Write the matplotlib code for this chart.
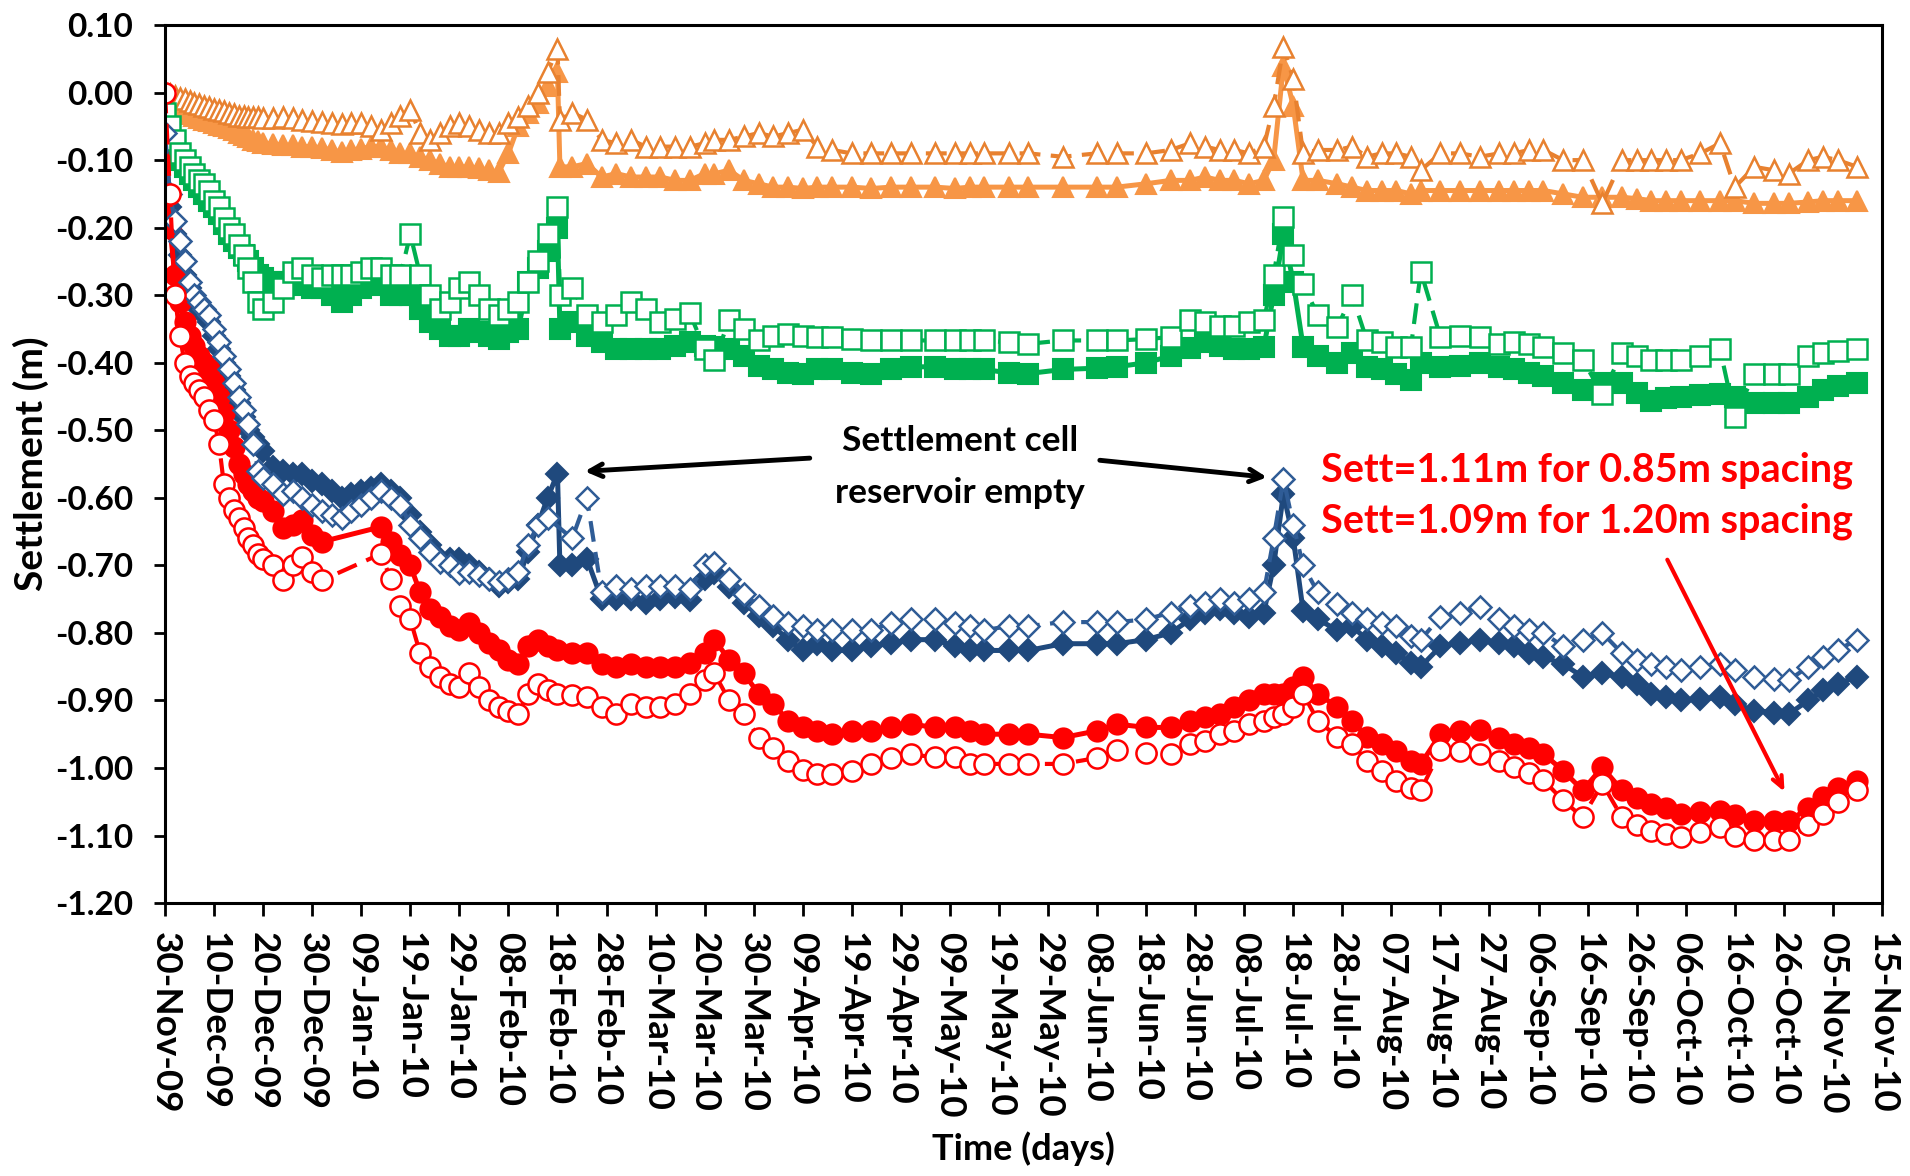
import matplotlib
matplotlib.use("Agg")
import matplotlib.pyplot as plt
import matplotlib.dates as mdates
from matplotlib.ticker import FuncFormatter
import numpy as np
import pandas as pd

plt.rcParams['font.family'] = ['Lato', 'DejaVu Sans']
plt.rcParams['font.weight'] = 'bold'

# reading days, counted from 30-Nov-2009
start = pd.Timestamp('2009-11-30')
days = [0, 1, 2, 3, 4, 5, 6, 7, 8, 9, 10, 11, 12, 13, 14, 15, 16, 17, 18, 19, 20,
        22, 24, 26, 28, 30, 32, 34, 36, 38, 40, 42, 44, 46, 48, 50,
        52, 54, 56, 58, 60, 62, 64, 66, 68, 70, 72, 74, 76, 78, 80, 80.5,
        83, 86, 89, 92, 95, 98, 101, 104, 107, 110, 112, 115, 118,
        121, 124, 127, 130, 133, 136, 140, 144, 148, 152, 157, 161, 164, 167,
        172, 176, 183, 190, 194, 200, 205, 209, 212, 215, 218, 221, 224, 226, 228, 230,
        232, 235, 239, 242, 245, 248, 251, 254, 256, 260, 264, 268, 272, 275,
        278, 281, 285, 289, 293, 297, 300, 303, 306, 309, 313, 317, 320, 324,
        328, 331, 335, 338, 341, 345]
nan = np.nan

# orange - filled / open triangles
orange_solid = [-0.005, -0.015, -0.02, -0.025, -0.03, -0.032, -0.035, -0.038, -0.04, -0.042, -0.045, -0.048, -0.05, -0.053, -0.056, -0.06, -0.063, -0.066, -0.07, -0.072, -0.075,
                -0.076, -0.078, -0.078, -0.08, -0.08, -0.082, -0.085, -0.088, -0.085, -0.083, -0.08, -0.08, -0.085, -0.09, -0.09,
                -0.095, -0.10, -0.105, -0.11, -0.11, -0.11, -0.112, -0.115, -0.118, -0.09, -0.05, -0.03, -0.015, 0.01, 0.03, -0.11,
                -0.11, -0.105, -0.125, -0.12, -0.125, -0.125, -0.125, -0.13, -0.13, -0.12, -0.12, -0.115, -0.13,
                -0.135, -0.14, -0.14, -0.142, -0.14, -0.14, -0.14, -0.142, -0.14, -0.14, -0.14, -0.142, -0.14, -0.14,
                -0.14, -0.14, -0.14, -0.14, -0.14, -0.135, -0.13, -0.13, -0.125, -0.13, -0.13, -0.135, -0.13, -0.10, 0.04, -0.02,
                -0.13, -0.13, -0.135, -0.14, -0.145, -0.145, -0.145, -0.15, -0.145, -0.145, -0.145, -0.145, -0.145, -0.145,
                -0.145, -0.145, -0.15, -0.155, -0.155, -0.155, -0.157, -0.16, -0.16, -0.16, -0.16, -0.16, -0.16, -0.164,
                -0.164, -0.164, -0.162, -0.16, -0.16, -0.16]
orange_open = [0.0, -0.002, -0.005, -0.008, -0.01, -0.012, -0.015, -0.017, -0.02, -0.022, -0.024, -0.026, -0.028, -0.03, -0.032, -0.034, -0.035, -0.036, -0.036, -0.036, -0.037,
               -0.037, -0.036, -0.038, -0.04, -0.042, -0.044, -0.045, -0.046, -0.045, -0.045, -0.05, -0.055, -0.045, -0.035, -0.026,
               -0.06, -0.07, -0.06, -0.05, -0.045, -0.05, -0.055, -0.06, -0.06, -0.045, -0.036, -0.02, 0.0, 0.03, 0.065, -0.04,
               -0.03, -0.04, -0.07, -0.075, -0.07, -0.08, -0.08, -0.08, -0.08, -0.075, -0.07, -0.07, -0.065,
               -0.06, -0.065, -0.06, -0.055, -0.08, -0.085, -0.09, -0.09, -0.09, -0.09, -0.09, -0.09, -0.09, -0.09,
               -0.09, -0.09, -0.095, -0.09, -0.09, -0.09, -0.085, -0.075, -0.08, -0.085, -0.085, -0.09, -0.08, -0.02, 0.068, 0.02,
               -0.09, -0.085, -0.085, -0.08, -0.095, -0.09, -0.09, -0.095, -0.115, -0.09, -0.09, -0.095, -0.09, -0.09,
               -0.085, -0.085, -0.10, -0.10, -0.164, -0.10, -0.10, -0.10, -0.10, -0.10, -0.09, -0.075, -0.14, -0.11,
               -0.115, -0.12, -0.10, -0.095, -0.10, -0.11]

# green - filled / open squares
green_solid = [-0.035, -0.055, -0.08, -0.10, -0.11, -0.12, -0.13, -0.14, -0.15, -0.16, -0.17, -0.18, -0.195, -0.21, -0.22, -0.23, -0.24, -0.25, -0.26, -0.27, -0.275,
               -0.28, -0.28, -0.28, -0.285, -0.29, -0.29, -0.30, -0.31, -0.30, -0.29, -0.285, -0.28, -0.30, -0.30, -0.30,
               -0.32, -0.34, -0.35, -0.36, -0.36, -0.35, -0.355, -0.36, -0.365, -0.355, -0.35, -0.28, -0.26, -0.235, -0.20, -0.35,
               -0.34, -0.36, -0.37, -0.38, -0.38, -0.38, -0.38, -0.375, -0.37, -0.375, -0.377, -0.38, -0.39,
               -0.405, -0.41, -0.415, -0.416, -0.41, -0.41, -0.415, -0.416, -0.41, -0.406, -0.406, -0.41, -0.41, -0.41,
               -0.415, -0.416, -0.41, -0.408, -0.406, -0.40, -0.39, -0.378, -0.37, -0.375, -0.38, -0.38, -0.376, -0.30, -0.21, -0.28,
               -0.376, -0.39, -0.40, -0.386, -0.406, -0.41, -0.416, -0.426, -0.40, -0.406, -0.405, -0.40, -0.406, -0.41,
               -0.415, -0.42, -0.43, -0.44, -0.43, -0.43, -0.445, -0.456, -0.452, -0.45, -0.448, -0.446, -0.45, -0.46,
               -0.46, -0.46, -0.45, -0.44, -0.435, -0.43]
green_open = [-0.03, -0.05, -0.07, -0.09, -0.10, -0.11, -0.12, -0.13, -0.135, -0.145, -0.16, -0.17, -0.185, -0.20, -0.21, -0.225, -0.24, -0.26, -0.28, -0.31, -0.32,
              -0.31, -0.29, -0.265, -0.26, -0.27, -0.275, -0.27, -0.27, -0.27, -0.265, -0.26, -0.26, -0.27, -0.27, -0.21,
              -0.27, -0.30, -0.32, -0.31, -0.29, -0.28, -0.30, -0.32, -0.33, -0.32, -0.31, -0.28, -0.25, -0.21, -0.17, -0.30,
              -0.29, -0.33, -0.34, -0.33, -0.31, -0.32, -0.34, -0.335, -0.327, -0.38, -0.396, -0.337, -0.35,
              -0.367, -0.36, -0.357, -0.36, -0.362, -0.362, -0.365, -0.367, -0.367, -0.367, -0.367, -0.367, -0.367, -0.367,
              -0.37, -0.372, -0.367, -0.367, -0.367, -0.365, -0.362, -0.337, -0.34, -0.345, -0.345, -0.34, -0.337, -0.27, -0.184, -0.24,
              -0.283, -0.33, -0.347, -0.30, -0.367, -0.37, -0.376, -0.376, -0.265, -0.362, -0.36, -0.362, -0.372, -0.37,
              -0.372, -0.376, -0.386, -0.396, -0.446, -0.386, -0.39, -0.396, -0.396, -0.396, -0.39, -0.38, -0.48, -0.416,
              -0.416, -0.416, -0.39, -0.386, -0.383, -0.38]

# blue - filled / open diamonds
blue_solid = [-0.08, -0.17, -0.21, -0.24, -0.27, -0.29, -0.305, -0.32, -0.33, -0.34, -0.36, -0.38, -0.40, -0.42, -0.44, -0.46, -0.48, -0.50, -0.51, -0.52, -0.53,
              -0.555, -0.56, -0.565, -0.565, -0.575, -0.58, -0.59, -0.60, -0.595, -0.59, -0.585, -0.58, -0.59, -0.60, -0.625,
              -0.65, -0.67, -0.69, -0.69, -0.69, -0.70, -0.71, -0.72, -0.73, -0.725, -0.72, -0.68, -0.64, -0.60, -0.564, -0.70,
              -0.70, -0.69, -0.75, -0.75, -0.75, -0.755, -0.75, -0.747, -0.752, -0.72, -0.712, -0.732, -0.755,
              -0.775, -0.79, -0.81, -0.826, -0.816, -0.826, -0.826, -0.82, -0.815, -0.81, -0.81, -0.82, -0.826, -0.826,
              -0.826, -0.826, -0.816, -0.816, -0.816, -0.81, -0.80, -0.78, -0.77, -0.765, -0.77, -0.776, -0.77, -0.70, -0.594, -0.66,
              -0.767, -0.78, -0.796, -0.79, -0.81, -0.82, -0.83, -0.845, -0.85, -0.82, -0.815, -0.81, -0.815, -0.82,
              -0.83, -0.836, -0.846, -0.865, -0.86, -0.865, -0.875, -0.89, -0.895, -0.90, -0.898, -0.895, -0.905, -0.915,
              -0.918, -0.92, -0.90, -0.885, -0.875, -0.865]
blue_open = [-0.06, -0.15, -0.19, -0.22, -0.25, -0.28, -0.30, -0.31, -0.32, -0.33, -0.35, -0.37, -0.39, -0.41, -0.43, -0.45, -0.47, -0.49, -0.52, -0.56, -0.57,
             -0.58, -0.594, -0.59, -0.60, -0.61, -0.62, -0.625, -0.63, -0.62, -0.61, -0.60, -0.59, -0.60, -0.61, -0.64,
             -0.66, -0.68, -0.695, -0.70, -0.712, -0.71, -0.715, -0.72, -0.725, -0.72, -0.71, -0.67, -0.64, -0.63, nan, nan,
             -0.66, -0.60, -0.74, -0.73, -0.735, -0.73, -0.73, -0.73, -0.735, -0.70, -0.697, -0.72, -0.742,
             -0.76, -0.775, -0.785, -0.79, -0.795, -0.796, -0.796, -0.796, -0.785, -0.78, -0.78, -0.785, -0.79, -0.796,
             -0.79, -0.79, -0.784, -0.784, -0.784, -0.78, -0.77, -0.76, -0.755, -0.75, -0.755, -0.75, -0.74, -0.66, -0.572, -0.64,
             -0.70, -0.74, -0.757, -0.77, -0.78, -0.785, -0.79, -0.805, -0.81, -0.776, -0.77, -0.762, -0.78, -0.79,
             -0.795, -0.80, -0.82, -0.81, -0.80, -0.83, -0.84, -0.846, -0.85, -0.855, -0.85, -0.846, -0.855, -0.865,
             -0.868, -0.87, -0.85, -0.836, -0.825, -0.81]

# red - filled / open circles
red_solid = [0.0, -0.20, -0.27, -0.31, -0.34, -0.36, -0.375, -0.39, -0.40, -0.41, -0.43, -0.45, -0.475, -0.50, -0.525, -0.55, -0.565, -0.58, -0.59, -0.60, -0.605,
             -0.62, -0.645, -0.64, -0.633, -0.655, -0.665, nan, nan, nan, nan, nan, -0.643, -0.665, -0.685, -0.70,
             -0.74, -0.765, -0.776, -0.79, -0.796, -0.786, -0.80, -0.815, -0.826, -0.84, -0.846, -0.82, -0.81, -0.82, -0.826, nan,
             -0.83, -0.83, -0.846, -0.85, -0.846, -0.85, -0.85, -0.85, -0.845, -0.83, -0.81, -0.84, -0.86,
             -0.89, -0.905, -0.93, -0.94, -0.945, -0.95, -0.945, -0.945, -0.94, -0.935, -0.94, -0.94, -0.945, -0.95,
             -0.95, -0.95, -0.955, -0.945, -0.935, -0.94, -0.94, -0.93, -0.925, -0.92, -0.91, -0.90, -0.89, -0.89, -0.89, -0.88,
             -0.865, -0.89, -0.91, -0.93, -0.954, -0.965, -0.975, -0.99, -0.994, -0.95, -0.945, -0.944, -0.955, -0.964,
             -0.97, -0.979, -1.004, -1.033, -0.999, -1.033, -1.045, -1.053, -1.06, -1.068, -1.065, -1.063, -1.07, -1.078,
             -1.078, -1.078, -1.06, -1.043, -1.03, -1.019]
red_open = [0.0, -0.15, -0.30, -0.36, -0.40, -0.42, -0.43, -0.44, -0.45, -0.47, -0.485, -0.52, -0.58, -0.60, -0.618, -0.63, -0.645, -0.66, -0.67, -0.683, -0.69,
            -0.70, -0.722, -0.70, -0.688, -0.71, -0.722, nan, nan, nan, nan, nan, -0.683, -0.72, -0.76, -0.78,
            -0.83, -0.85, -0.865, -0.875, -0.88, -0.86, -0.88, -0.90, -0.91, -0.915, -0.92, -0.89, -0.875, -0.885, -0.89, nan,
            -0.892, -0.895, -0.91, -0.92, -0.905, -0.91, -0.91, -0.905, -0.89, -0.87, -0.86, -0.90, -0.92,
            -0.955, -0.97, -0.99, -1.003, -1.009, -1.009, -1.004, -0.994, -0.985, -0.98, -0.984, -0.984, -0.994, -0.994,
            -0.994, -0.994, -0.994, -0.985, -0.974, -0.978, -0.98, -0.965, -0.96, -0.95, -0.945, -0.935, -0.93, -0.925, -0.92, -0.91,
            -0.89, -0.93, -0.954, -0.965, -0.989, -1.005, -1.02, -1.03, -1.033, -0.974, -0.975, -0.979, -0.99, -0.999,
            -1.008, -1.018, -1.048, -1.073, -1.023, -1.073, -1.085, -1.093, -1.098, -1.102, -1.095, -1.088, -1.10, -1.107,
            -1.107, -1.107, -1.085, -1.068, -1.05, -1.033]

t = start + pd.to_timedelta(days, unit='D')

fig = plt.figure(figsize=(19.1, 11.76), dpi=100)
ax = fig.add_axes([0.0864, 0.2321, 0.8989, 0.7466])

def draw(vals, color, marker, ms, filled):
    v = np.array(vals, dtype=float)
    ok = ~np.isnan(v)
    if filled:
        ax.plot(t[ok], v[ok], color=color, lw=3.6, marker=marker, ms=ms,
                mfc=color, mec=color, mew=1.5)
    else:
        ax.plot(t[ok], v[ok], color=color, lw=3, ls=(0, (5, 2.5)), marker=marker, ms=ms,
                mfc='white', mec=color, mew=1.8)

orange = '#F79646'
green = '#00B050'
blue = '#1F497D'
red = '#FF0000'

draw(orange_solid, orange, '^', 15, True)
draw(green_solid, green, 's', 14, True)
draw(blue_solid, blue, 'D', 11.5, True)
draw(red_solid, red, 'o', 14.5, True)
draw(orange_open, '#E8812F', '^', 15, False)
draw(green_open, green, 's', 14, False)
draw(blue_open, '#2F5C96', 'D', 11, False)
draw(red_open, red, 'o', 14.5, False)

ax.set_xlim(start, start + pd.Timedelta(days=350))
ax.set_ylim(-1.2, 0.1)
ax.set_xticks(start + pd.to_timedelta(np.arange(0, 351, 10), unit='D'))
ax.xaxis.set_major_formatter(mdates.DateFormatter('%d-%b-%y'))
ax.set_yticks(np.round(np.arange(-1.2, 0.101, 0.1), 2))
ax.yaxis.set_major_formatter(FuncFormatter(lambda v, p: ('%.2f' % v).replace('-0.00', '0.00')))
ax.tick_params(axis='x', direction='out', length=9, width=2, labelsize=26.5, pad=12)
ax.tick_params(axis='y', direction='out', length=8, width=2, labelsize=24, pad=15)
plt.setp(ax.get_xticklabels(), rotation=270, ha='center', va='top')
for s in ax.spines.values():
    s.set_linewidth(2.2)

ax.set_xlabel('Time (days)', fontsize=26, fontweight='bold', labelpad=10)
ax.set_ylabel('Settlement (m)', fontsize=28, fontweight='bold', labelpad=4)

# annotations
ax.text(start + pd.Timedelta(days=162), -0.516, 'Settlement cell', fontsize=25.5,
        fontweight='bold', ha='center', va='center')
ax.text(start + pd.Timedelta(days=162), -0.593, 'reservoir empty', fontsize=25.5,
        fontweight='bold', ha='center', va='center')
ax.annotate('', xy=(start + pd.Timedelta(days=85), -0.561), xytext=(start + pd.Timedelta(days=132), -0.541),
            arrowprops=dict(arrowstyle='->,head_length=0.9,head_width=0.45', color='black', lw=3.5))
ax.annotate('', xy=(start + pd.Timedelta(days=225.2), -0.57), xytext=(start + pd.Timedelta(days=190), -0.544),
            arrowprops=dict(arrowstyle='->,head_length=0.9,head_width=0.45', color='black', lw=3.5))

ax.text(start + pd.Timedelta(days=235.6), -0.559, 'Sett=1.11m for 0.85m spacing', fontsize=28.5,
        fontweight='bold', color=red, ha='left', va='center')
ax.text(start + pd.Timedelta(days=235.6), -0.635, 'Sett=1.09m for 1.20m spacing', fontsize=28.5,
        fontweight='bold', color=red, ha='left', va='center')
ax.annotate('', xy=(start + pd.Timedelta(days=330.4), -1.039), xytext=(start + pd.Timedelta(days=306), -0.688),
            arrowprops=dict(arrowstyle='->,head_length=0.8,head_width=0.35', color=red, lw=3))

fig.savefig('out.png', dpi=100)
